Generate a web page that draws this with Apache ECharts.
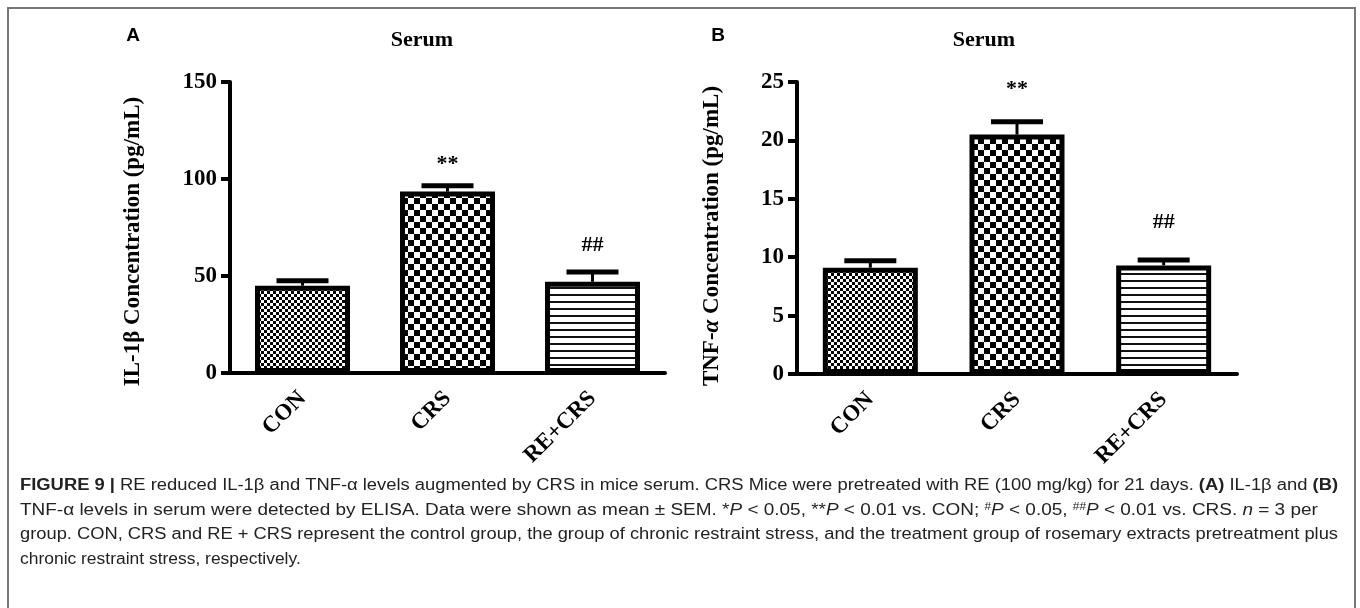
<!DOCTYPE html>
<html>
<head>
<meta charset="utf-8">
<script src="https://cdn.jsdelivr.net/npm/echarts@6/dist/echarts.min.js"></script>
<style>
  html, body { margin: 0; padding: 0; background: #fff; }
  #chart { width: 1360px; height: 608px; }
</style>
</head>
<body>
<div id="chart"></div>
<script>
// ---------- data ----------
const categories = ['CON', 'CRS', 'RE+CRS'];
const il1bMean = [45, 93.5, 47];
const il1bSem = [2.5, 3, 5];
const tnfMean = [9.1, 20.5, 9.3];
const tnfSem = [0.6, 1.1, 0.45];
const sigMarks = ['', '**', '##'];
const panelTitle = 'Serum';
const yNameA = 'IL-1β Concentration (pg/mL)';
const yNameB = 'TNF-{i|α} Concentration (pg/mL)';
const captionLines = [
  '{b|FIGURE 9 |} RE reduced IL-1β and TNF-α levels augmented by CRS in mice serum. CRS Mice were pretreated with RE (100 mg/kg) for 21 days. {b|(A)} IL-1β and {b|(B)}',
  'TNF-α levels in serum were detected by ELISA. Data were shown as mean ± SEM. *{i|P} < 0.05, **{i|P} < 0.01 vs. CON; {s|#}{i|P} < 0.05, {s|##}{i|P} < 0.01 vs. CRS. {i|n} = 3 per',
  'group. CON, CRS and RE + CRS represent the control group, the group of chronic restraint stress, and the treatment group of rosemary extracts pretreatment plus',
  'chronic restraint stress, respectively.'
];

// ---------- patterns ----------
function makePattern(kind) {
  const c = document.createElement('canvas');
  const ctx = c.getContext('2d');
  if (kind === 'fine') {
    c.width = 6; c.height = 6;
    ctx.fillStyle = '#fff'; ctx.fillRect(0, 0, 6, 6);
    ctx.fillStyle = '#000';
    ctx.fillRect(0, 0, 3, 3); ctx.fillRect(3, 3, 3, 3);
  } else if (kind === 'coarse') {
    c.width = 12; c.height = 12;
    ctx.fillStyle = '#fff'; ctx.fillRect(0, 0, 12, 12);
    ctx.fillStyle = '#000';
    ctx.fillRect(0, 0, 6, 6); ctx.fillRect(6, 6, 6, 6);
  } else {
    c.width = 8; c.height = 7;
    ctx.fillStyle = '#fff'; ctx.fillRect(0, 0, 8, 7);
    ctx.fillStyle = '#111';
    ctx.fillRect(0, 0, 8, 2);
  }
  return { image: c, repeat: 'repeat' };
}
const patterns = [makePattern('fine'), makePattern('coarse'), makePattern('stripe')];

const serif = 'Liberation Serif';
const tickFont = { fontFamily: serif, fontWeight: 'bold', fontSize: 23, color: '#000' };

function xAxisCfg(gridIndex) {
  return {
    type: 'category', gridIndex, data: categories,
    axisLine: { lineStyle: { color: '#000', width: 4 } },
    axisTick: { alignWithLabel: true, length: 9, lineStyle: { width: 4, color: '#000' } },
    axisLabel: Object.assign({ rotate: 45, interval: 0, margin: 22 }, tickFont),
    splitLine: { show: false }
  };
}
function yAxisCfg(gridIndex, max, interval, name, nameGap, namePad) {
  return {
    type: 'value', gridIndex, min: 0, max, interval,
    name, nameLocation: 'middle', nameGap, nameRotate: 90,
    nameTextStyle: { fontFamily: serif, fontWeight: 'bold', fontSize: 23, color: '#000',
      padding: [0, namePad, 0, 0],
      rich: { i: { fontFamily: serif, fontWeight: 'bold', fontStyle: 'italic', fontSize: 23, color: '#000' } } },
    axisLine: { show: true, lineStyle: { color: '#000', width: 4 } },
    axisTick: { show: true, length: 9, lineStyle: { width: 4, color: '#000' } },
    axisLabel: Object.assign({ margin: 13 }, tickFont),
    splitLine: { show: false }
  };
}

function barSeries(idx, means) {
  return {
    type: 'bar', xAxisIndex: idx, yAxisIndex: idx, barWidth: 95,
    data: means.map((v, i) => ({ value: v, itemStyle: { color: patterns[i] } })),
    itemStyle: { borderColor: '#000', borderWidth: 5 },
    emphasis: { disabled: true }, animation: false
  };
}
function errSeries(idx, means, sems, markOffset) {
  return {
    type: 'custom', xAxisIndex: idx, yAxisIndex: idx, z: 5, animation: false,
    data: means.map((v, i) => [i, v, sems[i]]),
    renderItem(params, api) {
      const i = api.value(0), m = api.value(1), e = api.value(2);
      const base = api.coord([i, m]);
      const top = api.coord([i, m + e]);
      const half = 26;
      const mark = sigMarks[params.dataIndex];
      const shift = mark.indexOf('*') >= 0 ? 6 : 0;
      return {
        type: 'group',
        children: [
          { type: 'line', shape: { x1: base[0], y1: base[1], x2: top[0], y2: top[1] }, style: { stroke: '#000', lineWidth: 3 } },
          { type: 'line', shape: { x1: top[0] - half, y1: top[1], x2: top[0] + half, y2: top[1] }, style: { stroke: '#000', lineWidth: 5 } },
          { type: 'text', style: { text: mark, x: top[0], y: top[1] - markOffset + shift,
            align: 'center', verticalAlign: 'middle', font: 'bold 22px "Liberation Serif"', fill: '#000' } }
        ]
      };
    }
  };
}

const capFont = 'Liberation Sans';
const capSize = 16;
const capScale = [1.148, 1.185, 1.144, 1.09];
const captionGraphics = captionLines.map((t, k) => ({
  type: 'text', x: 20, y: 478 + k * 24.5, scaleX: capScale[k], scaleY: 1,
  style: {
    x: 0, y: 0,
    text: t, fontFamily: capFont, fontSize: capSize, fill: '#222',
    rich: {
      b: { fontFamily: capFont, fontSize: capSize, fontWeight: 'bold', fill: '#222' },
      i: { fontFamily: capFont, fontSize: capSize, fontStyle: 'italic', fill: '#222' },
      s: { fontFamily: capFont, fontSize: 10, fill: '#222', verticalAlign: 'top' }
    }
  }
}));

const option = {
  backgroundColor: '#fff',
  animation: false,
  grid: [
    { left: 230, top: 82, width: 435, height: 291 },
    { left: 797, top: 82, width: 440, height: 292 }
  ],
  xAxis: [xAxisCfg(0), xAxisCfg(1)],
  yAxis: [yAxisCfg(0, 150, 50, yNameA, 85, 28), yAxisCfg(1, 25, 5, yNameB, 73, 16)],
  series: [
    barSeries(0, il1bMean), errSeries(0, il1bMean, il1bSem, 27),
    barSeries(1, tnfMean), errSeries(1, tnfMean, tnfSem, 38)
  ],
  graphic: [
    { type: 'rect', shape: { x: 8, y: 8, width: 1347, height: 640 }, style: { fill: 'none', stroke: '#777', lineWidth: 2 } },
    { type: 'text', style: { text: 'A', x: 133, y: 36, align: 'center', verticalAlign: 'middle', font: 'bold 19px "Liberation Sans"', fill: '#000' } },
    { type: 'text', style: { text: 'B', x: 718, y: 36, align: 'center', verticalAlign: 'middle', font: 'bold 19px "Liberation Sans"', fill: '#000' } },
    { type: 'text', style: { text: panelTitle, x: 422, y: 40, align: 'center', verticalAlign: 'middle', font: 'bold 22px "Liberation Serif"', fill: '#000' } },
    { type: 'text', style: { text: panelTitle, x: 984, y: 40, align: 'center', verticalAlign: 'middle', font: 'bold 22px "Liberation Serif"', fill: '#000' } }
  ].concat(captionGraphics)
};

const chart = echarts.init(document.getElementById('chart'), null, { renderer: 'canvas' });
chart.setOption(option);
</script>
</body>
</html>
